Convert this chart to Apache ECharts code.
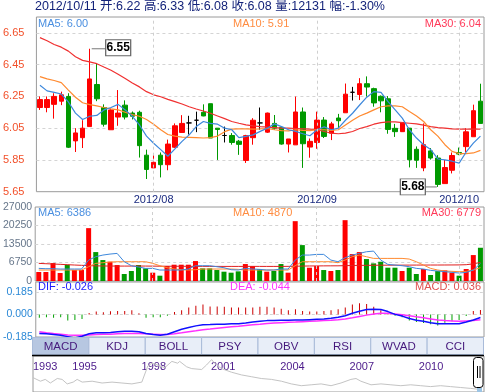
<!DOCTYPE html>
<html><head><meta charset="utf-8">
<script src="https://cdn.jsdelivr.net/npm/echarts@6/dist/echarts.min.js"></script>
<style>html,body{margin:0;padding:0;background:#fff}#c{width:489px;height:392px}</style>
</head><body><div id="c"></div>
<script>
const dates = ['2012/07/10','2012/07/11','2012/07/12','2012/07/13','2012/07/16','2012/07/17','2012/07/18','2012/07/19','2012/07/20','2012/07/23','2012/07/24','2012/07/25','2012/07/26','2012/07/27','2012/07/30','2012/07/31',
'2012/08/01','2012/08/02','2012/08/03','2012/08/06','2012/08/07','2012/08/08','2012/08/09','2012/08/10','2012/08/13','2012/08/14','2012/08/15','2012/08/16','2012/08/17','2012/08/20','2012/08/21','2012/08/22','2012/08/23','2012/08/24','2012/08/27','2012/08/28','2012/08/29','2012/08/30','2012/08/31',
'2012/09/03','2012/09/04','2012/09/05','2012/09/06','2012/09/07','2012/09/10','2012/09/11','2012/09/12','2012/09/13','2012/09/14','2012/09/17','2012/09/18','2012/09/19','2012/09/20','2012/09/21','2012/09/24','2012/09/25','2012/09/26','2012/09/27','2012/09/28',
'2012/10/08','2012/10/09','2012/10/10','2012/10/11'];
const opens = [6.18,6.18,6.20,6.22,6.25,5.97,5.99,6.06,6.325,6.18, 6.04,6.12,6.195,6.145,6.15,5.88,5.80,5.88,5.82,5.93, 6.023,6.083,6.10,6.15,6.204,6.05,6.004,6.004,5.968,5.847, 5.99,6.083,6.025,6.08,6.055,5.95,5.945,6.152,5.931,5.96, 6.101,6.018,6.114,6.147,6.276,6.262,6.33,6.299,6.251,6.235, 6.049,6.028,6.05,5.917,5.80,5.907,5.862,5.701,5.785,5.897, 5.934,5.996,6.22];
const closes = [6.23,6.23,6.25,6.26,5.93,6.02,6.05,6.36,6.235,6.075, 6.165,6.145,6.12,6.125,5.94,5.79,5.835,5.82,5.95,6.065, 6.08,6.083,6.10,6.127,5.988,6.042,6.004,5.96,5.948,6.003, 6.10,6.083,6.145,6.05,5.95,5.982,6.152,5.952,5.967,6.101, 5.998,6.077,6.097,6.264,6.276,6.33,6.309,6.209,6.222,6.042, 6.028,6.086,5.851,5.848,5.946,5.862,5.696,5.802,5.878,5.887, 6.027,6.16,6.08];
const lows = [6.165,6.15,6.11,6.195,5.925,5.90,5.925,6.06,6.22,6.06, 6.04,6.065,6.105,6.105,5.865,5.73,5.80,5.74,5.785,5.925, 6.02,6.01,6.025,6.125,5.988,5.85,5.96,5.946,5.882,5.831, 5.946,6.04,6.02,6.04,5.946,5.897,5.945,5.80,5.864,5.92, 5.988,5.975,6.05,6.147,6.224,6.227,6.249,6.185,6.15,6.015, 5.995,6.026,5.803,5.80,5.779,5.852,5.68,5.70,5.765,5.88, 5.898,5.996,6.08];
const highs = [6.25,6.25,6.27,6.28,6.27,6.05,6.10,6.55,6.455,6.20, 6.175,6.29,6.225,6.155,6.16,5.915,5.89,5.897,5.978,6.08, 6.132,6.128,6.154,6.20,6.204,6.05,6.06,6.019,5.976,6.008, 6.113,6.18,6.148,6.133,6.06,5.982,6.249,6.18,5.985,6.154, 6.12,6.09,6.14,6.331,6.31,6.365,6.376,6.305,6.256,6.252, 6.077,6.088,6.05,5.935,6.08,5.925,5.88,5.85,5.897,5.928, 6.05,6.198,6.33];
const ma5 = [6.32,6.285,6.275,6.265,6.215,6.145,6.105,6.125,6.13,6.165, 6.18,6.2,6.165,6.125,6.07,6.0,5.955,5.915,5.873,5.92, 5.967,6.008,6.06,6.092,6.08,6.075,6.05,6.04,5.99,5.998, 6.008,6.03,6.05,6.077,6.06,6.04,6.03,6.015,6.002,6.04, 6.058,6.04,6.05,6.10,6.144,6.196,6.245,6.28,6.275,6.217, 6.165,6.113,6.04,5.988,5.946,5.915,5.856,5.85,5.842,5.83, 5.90,5.956,6.00];
const ma10 = [6.375,6.36,6.35,6.337,6.29,6.245,6.21,6.198,6.19,6.18, 6.172,6.165,6.15,6.135,6.125,6.105,6.075,6.04,6.01,6.0, 5.994,5.992,5.99,5.988,5.99,6.0,6.028,6.044,6.045,6.045, 6.044,6.045,6.048,6.04,6.035,6.033,6.04,6.036,6.034,6.04, 6.04,6.036,6.04,6.07,6.10,6.127,6.145,6.165,6.185,6.19, 6.19,6.185,6.155,6.127,6.092,6.04,6.0,5.946,5.904,5.89, 5.89,5.894,5.91];
const ma30 = [6.62,6.60,6.577,6.56,6.535,6.50,6.477,6.467,6.456,6.435, 6.415,6.39,6.363,6.335,6.31,6.28,6.26,6.248,6.231,6.217, 6.202,6.185,6.171,6.158,6.144,6.127,6.11,6.092,6.081,6.071, 6.065,6.06,6.056,6.054,6.05,6.05,6.048,6.046,6.044,6.04, 6.029,6.019,6.015,6.019,6.029,6.048,6.06,6.075,6.085,6.09, 6.09,6.085,6.081,6.077,6.069,6.06,6.054,6.05,6.046,6.044, 6.044,6.044,6.044];
const volumes = [3275,3275,6550,2911,5944,4003,4003,19287,10553,7642, 7035,5822,2547,3639,5822,4609,3033,1941,5459,5944, 5944,5944,7278,4609,4609,4003,3396,3033,3518,6186, 5459,4367,3396,3639,6186,3033,21834,13100,4852,5459, 4003,3639,4003,22198,9825,10553,8006,6429,7035,4852, 4852,3639,4852,2547,4367,2183,3639,3882,3033,1941, 4367,9461,12131];
const volMa5 = [4609,4488,4488,4367,4367,4367,4367,7642,8855,9461, 9825,10068,7035,5580,5095,4609,4609,4003,4003,4003, 4003,4367,5580,5580,5580,5216,4852,4124,4003,4609, 4367,4246,4003,4003,4367,4367,7642,9461,9461,9704, 9704,7642,7035,8491,9461,10068,10674,10917,7642,6065, 5822,5580,5216,4609,4367,3882,3639,3396,3154,2911, 3154,4003,6386];
const volMa10 = [4003,4003,4003,4003,4003,4003,4003,5216,6429,6672, 6914,7035,7035,7035,7035,7035,6429,5580,4852,4367, 4124,4003,4124,4367,4367,4367,4367,4367,4246,4003, 4003,4003,4003,4003,4003,4003,5580,7035,7035,7035, 7035,7035,6672,7642,8855,9461,8855,8248,8248,8248, 8248,8248,8006,7035,5822,4609,4003,3639,3518,3396, 3518,4003,4870];
const volMa30 = [6430,6310,6200,6080,5950,5830,5720,5600,5520,5480, 5460,5450,5440,5450,5460,5450,5430,5400,5390,5380, 5370,5360,5350,5340,5330,5330,5320,5320,5320,5330, 5340,5330,5320,5320,5330,5340,5380,5450,5480,5500, 5520,5530,5540,5600,5650,5700,5720,5740,5760,5770, 5780,5790,5800,5810,5820,5830,5830,5840,5850,5870, 5950,6250,6779];
const macd = [-0.028,-0.023,-0.028,-0.023,-0.051,-0.046,-0.037,0.011,0.023,0.017, 0.026,0.028,0.028,0.034,0.009,-0.028,-0.023,-0.023,-0.011,0.020, 0.034,0.057,0.071,0.080,0.065,0.065,0.063,0.057,0.057,0.057, 0.057,0.063,0.063,0.057,0.046,0.034,0.043,0.028,0.023,0.023, 0.028,0.034,0.043,0.057,0.080,0.091,0.085,0.063,0.034,0.014, -0.011,-0.023,-0.051,-0.063,-0.071,-0.080,-0.091,-0.068,-0.057,-0.046, -0.014,0.028,0.036];
const dif = [-0.157,-0.159,-0.165,-0.171,-0.182,-0.194,-0.179,-0.159,-0.151,-0.151, -0.148,-0.142,-0.137,-0.137,-0.142,-0.157,-0.165,-0.171,-0.162,-0.142, -0.122,-0.108,-0.094,-0.085,-0.083,-0.080,-0.080,-0.077,-0.077,-0.071, -0.063,-0.057,-0.051,-0.051,-0.048,-0.048,-0.046,-0.046,-0.043,-0.040, -0.037,-0.031,-0.023,-0.011,0.009,0.026,0.040,0.043,0.040,0.023, 0.000,-0.014,-0.034,-0.048,-0.057,-0.068,-0.077,-0.077,-0.077,-0.077, -0.063,-0.046,-0.026];
const dea = [-0.142,-0.151,-0.157,-0.162,-0.168,-0.171,-0.171,-0.168,-0.165,-0.162, -0.162,-0.159,-0.157,-0.157,-0.157,-0.159,-0.162,-0.165,-0.165,-0.159, -0.151,-0.142,-0.134,-0.125,-0.120,-0.114,-0.108,-0.102,-0.097,-0.091, -0.085,-0.080,-0.074,-0.071,-0.068,-0.065,-0.063,-0.060,-0.057,-0.054, -0.051,-0.048,-0.043,-0.037,-0.028,-0.017,-0.006,0.003,0.009,0.009, 0.003,-0.003,-0.011,-0.020,-0.028,-0.037,-0.046,-0.051,-0.054,-0.057, -0.054,-0.051,-0.044];
const navYears = [1993.30,1993.62,1993.83,1994.05,1994.35,1994.56,1994.78,1995.04,1995.21,1995.43,1995.86,1996.29,1996.72,1997.15,1997.58,1998.01,1998.14,1998.27,1998.44,1998.70,1999.00,1999.31,1999.56,1999.65,1999.95,2000.17,2000.60,2000.81,2001.03,2001.16,2001.46,2001.89,2002.32,2002.75,2003.18,2003.62,2004.05,2004.48,2004.91,2005.34,2005.77,2006.20,2006.63,2007.06,2007.28,2007.49,2007.93,2008.36,2008.79,2009.22,2009.65,2010.08,2010.51,2010.94,2011.37,2011.81,2012.24,2012.58];
const navValues = [8,6,7,5,7.5,7,4.5,5.5,7,5.5,6,5,5.5,5,4.5,5.5,10,14.5,16,15,13.5,17,16,17,14,13,12.5,15,18,16,13,11,9.5,8.5,7.5,7,6,4.5,3.5,4,4.5,3.5,5,7,7.5,6,4,4.5,4,3.5,4,3.5,3,3.5,3,2.5,2,1.5];
const navTickYears = [1993.3, 1995, 1998, 2001, 2004, 2007, 2010];
const tabs = ['MACD','KDJ','BOLL','PSY','OBV','RSI','WVAD','CCI'];

const FONT = "'Liberation Sans', Arial, 'Noto Sans CJK SC', sans-serif";
const n = dates.length, last = n - 1;
const upColor = '#ff0000', downColor = '#009900';
const candleData = opens.map((o, i) => [o, closes[i], lows[i], highs[i]]);
const dirUp = closes.map((c, i) => c > opens[i] ? true : c < opens[i] ? false : (i === 0 || c >= closes[i - 1]));
const volData = volumes.map((v, i) => ({ value: v, itemStyle: { color: dirUp[i] ? upColor : downColor } }));
const macdData = macd.map(v => ({ value: v, itemStyle: { color: v >= 0 ? '#cc0000' : '#00a000' } }));
const monthStartIdx = dates.map((d, i) => i).filter(i => i > 0 && dates[i].slice(0, 7) !== dates[i - 1].slice(0, 7));
const monthStarts = monthStartIdx.map(i => dates[i]);
let hiIdx = 0, loIdx = 0;
highs.forEach((h, i) => { if (h > highs[hiIdx]) hiIdx = i; });
lows.forEach((l, i) => { if (l < lows[loIdx]) loIdx = i; });
const pct = ((closes[last] - closes[last - 1]) / closes[last - 1] * 100).toFixed(2);
const titleText = `${dates[last]} 开:${opens[last].toFixed(2)} 高:${highs[last].toFixed(2)} 低:${lows[last].toFixed(2)} 收:${closes[last].toFixed(2)} 量:${volumes[last]} 幅:${pct}%`;

const vLines = {
  silent: true, symbol: ['none', 'none'], label: { show: false }, animation: false,
  lineStyle: { color: '#cfcfcf', type: [3, 3], width: 1 },
  data: monthStarts.map(d => ({ xAxis: d }))
};
const split = { show: true, showMinLine: false, showMaxLine: false, lineStyle: { color: '#d4d4d4', type: [3, 3], width: 1 } };
const gridStyle = { show: true, borderColor: '#9a9a9a', borderWidth: 1, backgroundColor: '#fff', left: 33, right: 5 };
const catAxis = (g) => ({
  type: 'category', data: dates, gridIndex: g, boundaryGap: true,
  axisLine: { show: false }, axisTick: { show: false }, splitLine: { show: false }, axisLabel: { show: false }
});
const lineS = (data, color, xi, w) => ({
  type: 'line', data, xAxisIndex: xi, yAxisIndex: xi, showSymbol: false, symbol: 'none', smooth: false,
  lineStyle: { color, width: w || 1.2 }, itemStyle: { color }, z: 4, silent: true
});
const txt = (x, y, text, fill, align, size) => ({
  type: 'text', x, y, z: 100,
  style: { text, fill, font: `${size || 11}px ${FONT}`, align: align || 'left', verticalAlign: 'middle' }
});

const tabX0 = 32.5, tabX1 = 483.5, tabW = (tabX1 - tabX0) / tabs.length;
const tabGraphics = [];
tabs.forEach((t, i) => {
  tabGraphics.push({ type: 'rect', z: 100, shape: { x: tabX0 + i * tabW, y: 337.5, width: tabW, height: 17 },
    style: { fill: i === 0 ? '#b7c7e1' : '#e8eef8', stroke: '#a9bbd9', lineWidth: 1 } });
  tabGraphics.push(txt(tabX0 + i * tabW + tabW / 2, 346.5, t, '#45187c', 'center', 11.5));
});

const option = {
  animation: false,
  backgroundColor: '#fff',
  grid: [
    Object.assign({ top: 17, height: 174.7 }, gridStyle),
    Object.assign({ top: 207, height: 74 }, gridStyle),
    Object.assign({ top: 282, height: 55 }, gridStyle),
    Object.assign({ top: 356, height: 40 }, gridStyle)
  ],
  xAxis: [
    Object.assign(catAxis(0), {
      axisLabel: { show: true, interval: (i) => monthStartIdx.includes(i), formatter: v => v.slice(0, 7),
        color: '#1a2a80', fontSize: 11, fontFamily: FONT, margin: 3 }
    }),
    catAxis(1), catAxis(2),
    { type: 'value', gridIndex: 3, min: 1993.3, max: 2012.82, position: 'top',
      axisLine: { show: false }, splitLine: { show: false },
      axisTick: { show: true, inside: true, length: 5, customValues: navTickYears, lineStyle: { color: '#777' } },
      axisLabel: { show: true, inside: true, customValues: navTickYears, formatter: v => String(Math.floor(v)),
        align: 'left', verticalAlign: 'top', margin: 5, color: '#4b1a8a', fontSize: 11, fontFamily: FONT } }
  ],
  yAxis: [
    { type: 'value', gridIndex: 0, min: 5.65, max: 6.75, interval: 0.2, axisLine: { show: false }, axisTick: { show: false },
      splitLine: split, axisLabel: { color: '#f2502a', fontSize: 11, fontFamily: FONT, margin: 12,
        formatter: v => v > 6.7 ? '' : v.toFixed(2) } },
    { type: 'value', gridIndex: 1, min: 0, max: 27000, interval: 6750, axisLine: { show: false }, axisTick: { show: false },
      splitLine: split, axisLabel: { color: '#66768a', fontSize: 10.5, fontFamily: FONT, margin: 3,
        formatter: v => String(Math.round(v)) } },
    { type: 'value', gridIndex: 2, min: -0.185, max: 0.265, interval: 0.185, axisLine: { show: false }, axisTick: { show: false },
      splitLine: split, axisLabel: { color: '#2a88d6', fontSize: 10.5, fontFamily: FONT, margin: 3,
        formatter: v => v > 0.2 ? '' : (Math.abs(v) < 1e-9 ? '0.000' : v.toFixed(3)) } },
    { type: 'value', gridIndex: 3, min: 0, max: 20, show: false }
  ],
  series: [
    { type: 'candlestick', xAxisIndex: 0, yAxisIndex: 0, data: candleData, barWidth: 5, z: 3, silent: true,
      itemStyle: { color: upColor, color0: downColor, borderColor: upColor, borderColor0: downColor, borderColorDoji: '#000', borderWidth: 1 },
      markLine: vLines,
      markPoint: {
        silent: true, animation: false,
        data: [
          { coord: [hiIdx, highs[hiIdx]], value: highs[hiIdx], symbol: 'rect', symbolSize: [16, 1], symbolOffset: [10, 0],
            itemStyle: { color: '#777' }, label: { show: false } },
          { coord: [hiIdx, highs[hiIdx]], value: highs[hiIdx], symbol: 'rect', symbolSize: [25, 16], symbolOffset: [28.5, -1],
            itemStyle: { color: '#fff', borderColor: '#666', borderWidth: 1 },
            label: { show: true, position: 'inside', formatter: p => Number(p.value).toFixed(2), color: '#000', fontSize: 12, fontWeight: 'bold', fontFamily: FONT } },
          { coord: [loIdx, lows[loIdx]], value: lows[loIdx], symbol: 'rect', symbolSize: [14, 1], symbolOffset: [-8, 0],
            itemStyle: { color: '#777' }, label: { show: false } },
          { coord: [loIdx, lows[loIdx]], value: lows[loIdx], symbol: 'rect', symbolSize: [25, 16], symbolOffset: [-25, 0],
            itemStyle: { color: '#fff', borderColor: '#666', borderWidth: 1 },
            label: { show: true, position: 'inside', formatter: p => Number(p.value).toFixed(2), color: '#000', fontSize: 12, fontWeight: 'bold', fontFamily: FONT } }
        ]
      } },
    lineS(ma30, '#f03030', 0),
    lineS(ma10, '#ff8a30', 0),
    lineS(ma5, '#3d88dc', 0),
    { type: 'bar', xAxisIndex: 1, yAxisIndex: 1, data: volData, barWidth: 5, silent: true, markLine: vLines },
    lineS(volMa30, '#e02020', 1, 1),
    lineS(volMa10, '#ff8a30', 1, 1),
    lineS(volMa5, '#3d88dc', 1, 1),
    { type: 'bar', xAxisIndex: 2, yAxisIndex: 2, data: macdData, barWidth: 1, silent: true },
    lineS(dea, '#ff30ff', 2, 1.5),
    lineS(dif, '#1010ff', 2, 1.5),
    { type: 'line', xAxisIndex: 3, yAxisIndex: 3, data: navYears.map((y, i) => [y, navValues[i]]), showSymbol: false, symbol: 'none',
      lineStyle: { color: '#c4c4c4', width: 1 }, silent: true }
  ],
  graphic: [
    txt(35, 7, titleText, '#14237a', 'left', 12.5),
    txt(38, 23.5, 'MA5: ' + ma5[last].toFixed(2), '#4a8fe0'),
    txt(233, 23.5, 'MA10: ' + ma10[last].toFixed(2), '#ff8c40'),
    txt(481, 23.5, 'MA30: ' + ma30[last].toFixed(2), '#ff3858', 'right'),
    txt(38, 213, 'MA5: ' + volMa5[last], '#4a8fe0'),
    txt(233, 213, 'MA10: ' + volMa10[last], '#ff8c40'),
    txt(481, 213, 'MA30: ' + volMa30[last], '#ff3858', 'right'),
    txt(38, 287, 'DIF: ' + dif[last].toFixed(3), '#1a1aff'),
    txt(230, 287, 'DEA: ' + dea[last].toFixed(3), '#ff33ff'),
    txt(481, 287, 'MACD: ' + macd[last].toFixed(3), '#e05050', 'right'),
    ...tabGraphics,
    { type: 'line', z: 100, shape: { x1: 32, y1: 355.5, x2: 484, y2: 355.5 }, style: { stroke: '#000', lineWidth: 1.5 } },
    { type: 'rect', z: 101, shape: { x: 473.5, y: 357.5, width: 9.5, height: 30, r: 3 }, style: { fill: '#fff', stroke: '#000', lineWidth: 1 } },
    { type: 'line', z: 102, shape: { x1: 477.5, y1: 366, x2: 477.5, y2: 378 }, style: { stroke: '#000', lineWidth: 1 } },
    { type: 'line', z: 102, shape: { x1: 480, y1: 366, x2: 480, y2: 378 }, style: { stroke: '#000', lineWidth: 1 } },
    { type: 'rect', z: 101, shape: { x: 477, y: 388, width: 5, height: 4 }, style: { fill: '#9cc4e4' } }
  ]
};
const chart = echarts.init(document.getElementById('c'), null, { renderer: 'canvas', width: 489, height: 392 });
chart.setOption(option);
</script>
</body></html>
